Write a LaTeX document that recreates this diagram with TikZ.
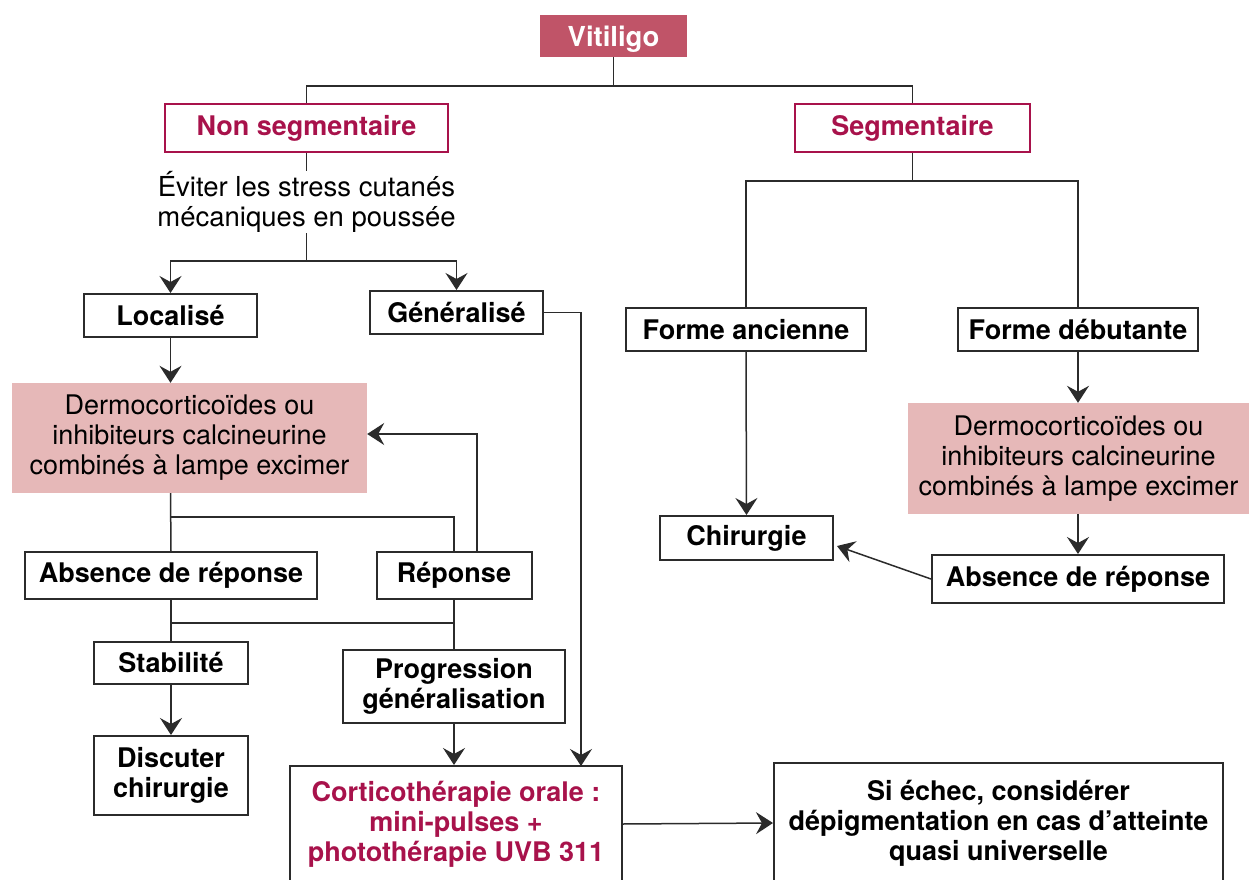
\documentclass[tikz,border=0pt]{standalone}
\usepackage{fontspec}
\setmainfont{TeX Gyre Heros}
\usetikzlibrary{arrows.meta,calc}
\definecolor{vitfill}{HTML}{C05468}
\definecolor{crimson}{HTML}{A8124B}
\definecolor{pinkfill}{HTML}{E6B8B8}
\definecolor{linec}{HTML}{2B2B2B}
\tikzset{
  box/.style={draw=linec, line width=2pt, fill=white, align=center, inner sep=2pt,
    font=\bfseries\fontsize{27}{30}\selectfont, text=black},
  redbox/.style={draw=crimson, line width=1.6pt, fill=white, align=center,
    font=\bfseries\fontsize{27}{30}\selectfont, text=crimson},
  pinkbox/.style={fill=pinkfill, align=center, inner sep=2pt,
    font=\fontsize{27}{30}\selectfont, text=black},
  conn/.style={draw=linec, line width=1.5pt},
  arr/.style={conn, -{Stealth[length=17pt,width=22pt,inset=6pt]}},
}
\begin{document}
\begin{tikzpicture}[x=1pt,y=-1pt]
\useasboundingbox (0,0) rectangle (1254,880);
\clip (0,0) rectangle (1254,880);
\fill[white] (0,0) rectangle (1254,880);

% nodes
\node[fill=vitfill, text=white, font=\bfseries\fontsize{27.5}{30}\selectfont,
  minimum width=147pt, minimum height=42pt, inner sep=0pt, text height=24pt, text depth=2pt] (vit) at (613.5,36) {Vitiligo};
\node[redbox, minimum width=283pt, minimum height=48pt] (nonseg) at (306.5,128) {Non segmentaire};
\node[redbox, minimum width=235pt, minimum height=48pt] (seg) at (912.5,128) {Segmentaire};
\node[align=center, font=\fontsize{27.5}{30}\selectfont, minimum height=62pt, inner sep=0pt] (ev) at (306.5,202)
  {Éviter les stress cutanés\\mécaniques en poussée};
\node[box, minimum width=173pt, minimum height=43pt] (loc) at (170.5,315.5) {Localisé};
\node[box, minimum width=173pt, minimum height=43pt] (gen) at (456.5,312.5) {Généralisé};
\node[pinkbox, minimum width=355pt, minimum height=110pt] (pinkL) at (189.5,438)
  {Dermocorticoïdes ou\\inhibiteurs calcineurine\\combinés à lampe excimer};
\node[box, minimum width=292pt, minimum height=47pt] (absL) at (171,575.5) {Absence de réponse};
\node[box, minimum width=155pt, minimum height=47pt] (rep) at (454,575.5) {Réponse};
\node[box, minimum width=154pt, minimum height=42pt] (stab) at (171,663) {Stabilité};
\node[box, minimum width=222pt, minimum height=73pt] (prog) at (454,686.5) {Progression\\généralisation};
\node[box, minimum width=154pt, minimum height=79pt] (disc) at (171,775.5) {Discuter\\chirurgie};
\node[box, text=crimson, minimum width=332pt, minimum height=116pt] (cort) at (456,824)
  {Corticothérapie orale :\\mini-pulses +\\photothérapie UVB 311};
\node[box, minimum width=449pt, minimum height=120pt] (sie) at (998.5,823)
  {Si échec, considérer\\dépigmentation en cas d’atteinte\\quasi universelle};
\node[box, minimum width=240pt, minimum height=43pt] (fa) at (746,329.5) {Forme ancienne};
\node[box, minimum width=240pt, minimum height=43pt] (fd) at (1078,329.5) {Forme débutante};
\node[box, minimum width=173pt, minimum height=44pt] (chir) at (746.5,538) {Chirurgie};
\node[pinkbox, minimum width=341pt, minimum height=111pt] (pinkR) at (1078.5,458.5)
  {Dermocorticoïdes ou\\inhibiteurs calcineurine\\combinés à lampe excimer};
\node[box, minimum width=292pt, minimum height=48pt] (absR) at (1078,579) {Absence de réponse};
\coordinate (cortin) at (581,766);

% connectors
\draw[conn] (vit.south) -- ++(0,29) -| (nonseg.north);
\draw[conn] (vit.south) ++(0,29) -| (seg.north);
\draw[conn] (nonseg.south) -- (ev.north);
\draw[arr] (ev.south) -- ++(0,28) -| (loc.north);
\draw[arr] (ev.south) ++(0,28) -| (gen.north);
\draw[arr] (gen.east) -| (cortin);
\draw[conn] (seg.south) -- ++(0,28) -| (fa.north);
\draw[conn] (seg.south) ++(0,28) -| (fd.north);
\draw[arr] (fa.south) -- (chir.north);
\draw[arr] (fd.south) -- (fd.south |- pinkR.north);
\draw[arr] (pinkR.south -| absR.north) -- (absR.north);
\draw[arr] (absR.west) -- ($(chir.east)+(3,8)$);
\draw[arr] (loc.south) -- (loc.south |- pinkL.north);
\draw[conn] (loc.south |- pinkL.south) -- (absL.north);
\draw[conn] ($(absL.north)+(0,-34)$) -- ($(rep.north)+(0,-34)$) -- (rep.north);
\draw[arr] ($(rep.north)+(23,0)$) |- ($(pinkL.east)+(0,-4)$);
\draw[conn] (absL.south) -- (stab.north);
\draw[conn] (rep.south) -- (prog.north);
\draw[conn] ($(absL.south)+(0,23)$) -- ($(rep.south)+(0,23)$);
\draw[arr] (stab.south) -- (disc.north);
\draw[arr] (prog.south) -- (prog.south |- cort.north);
\draw[arr] (cort.east) -- (sie.west);
\end{tikzpicture}
\end{document}
